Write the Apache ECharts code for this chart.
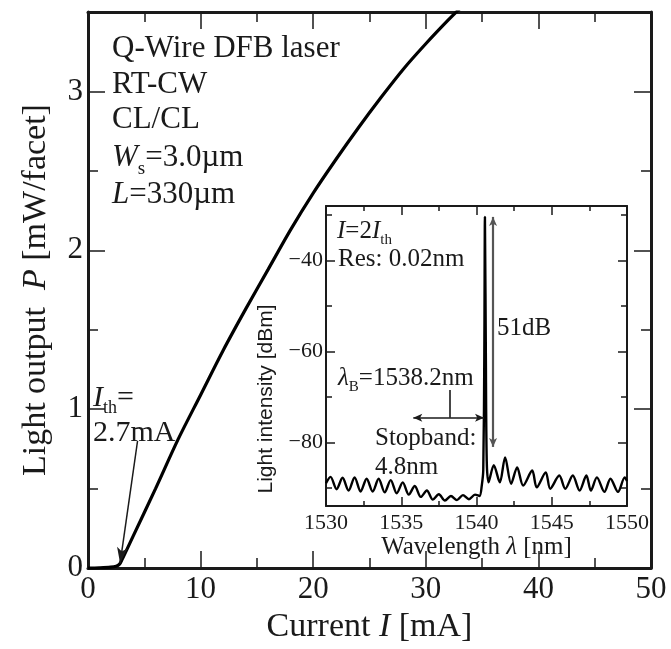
<!DOCTYPE html>
<html lang="en">
<head>
<meta charset="UTF-8">
<title>Q-Wire DFB laser</title>
<script src="https://cdn.jsdelivr.net/npm/echarts@6/dist/echarts.min.js"></script>
<style>html,body{margin:0;padding:0;background:#fff}#chart{width:671px;height:649px}</style>
</head>
<body>
<div id="chart"></div>
<script>
// L-I curve
var current = [0, 1, 2, 2.5, 2.8, 3, 4, 6, 8, 10, 12, 14, 16, 18, 20, 22, 24, 26, 28, 30, 32, 33];
var power = [0, 0.002, 0.006, 0.012, 0.025, 0.05, 0.2, 0.5, 0.81, 1.09, 1.37, 1.63, 1.88, 2.13, 2.36, 2.57, 2.77, 2.96, 3.14, 3.30, 3.45, 3.52];
var pTicks = [0, 1, 2, 3];
var pMinor = [0.5, 1.5, 2.5];
var thArrow = [[4.4, 0.8], [2.85, 0.03]];

// spectrum (inset)
var wavelength = [1530.0, 1530.3, 1530.7, 1531.1, 1531.5, 1531.9, 1532.3, 1532.7, 1533.1, 1533.5, 1533.9,
    1534.3, 1534.7, 1535.1, 1535.5, 1535.9, 1536.3, 1536.7, 1537.1, 1537.5, 1537.9, 1538.3, 1538.7,
    1539.1, 1539.5, 1539.9, 1540.2, 1540.35, 1540.45, 1540.52, 1540.56, 1540.62, 1540.68, 1540.8,
    1541.15, 1541.55, 1541.9, 1542.3, 1542.7, 1543.1, 1543.7, 1544.0, 1544.6, 1544.9, 1545.5, 1545.9,
    1546.4, 1546.85, 1547.3, 1547.6, 1548.0, 1548.5, 1548.9, 1549.4, 1549.85, 1550.0];
var intensity = [-89.0, -87.6, -90.3, -87.8, -90.6, -87.7, -90.8, -88.0, -90.8, -88.0, -91.0,
    -88.3, -91.2, -88.8, -91.5, -89.6, -92.0, -90.6, -92.6, -91.4, -92.8, -91.8, -92.7,
    -91.6, -92.5, -91.5, -91.8, -89.5, -86.0, -60, -30.4, -60, -84.0, -88.8,
    -85.0, -88.8, -83.3, -89.1, -85.5, -89.5, -86.2, -89.9, -86.6, -90.2, -87.3, -90.2,
    -87.3, -90.6, -87.3, -90.6, -87.7, -90.9, -88.0, -90.9, -87.7, -88.5];
var dbTicks = [-80, -60, -40];
var dbMinor = [-90, -70, -50, -30];
var braggArrow = [[1538.2, -68.5], [1538.2, -74.6]];
var stopband = [[1535.8, -74.6], [1540.5, -74.6]];
var smsr = [[1541.1, -30.4], [1541.1, -81]];

var serif = '"Liberation Serif", "Times New Roman", serif';
var ink = '#1a1a1a';

function zip(a, b) {
    var out = [];
    for (var i = 0; i < a.length; i++) out.push([a[i], b[i]]);
    return out;
}

function xAx(grid, pos, min, max, interval, len, minorLen, width, label, size, margin) {
    return {
        type: 'value', gridIndex: grid, position: pos, min: min, max: max, interval: interval,
        axisLine: {show: true, onZero: false, lineStyle: {color: ink, width: width}},
        axisTick: {inside: true, length: len, lineStyle: {color: ink, width: 1.5}},
        minorTick: {show: true, splitNumber: 2, length: minorLen, lineStyle: {color: ink, width: 1.5}},
        axisLabel: {show: label, fontFamily: serif, fontSize: size, color: ink, margin: margin,
            formatter: function (v) { return String(v); }},
        splitLine: {show: false}, minorSplitLine: {show: false}
    };
}

function yAx(grid, pos, min, max, ticks, len, line, width, label, size, margin) {
    return {
        type: 'value', gridIndex: grid, position: pos, min: min, max: max,
        axisLine: {show: line, onZero: false, lineStyle: {color: ink, width: width}},
        axisTick: {inside: true, length: len, customValues: ticks, lineStyle: {color: ink, width: 1.5}},
        axisLabel: {show: label, customValues: ticks, fontFamily: serif, fontSize: size, color: ink, margin: margin,
            formatter: function (v) { return v < 0 ? '\u2212' + (-v) : String(v); }},
        splitLine: {show: false}
    };
}

function rich(size) {
    return {
        i: {fontStyle: 'italic', fontSize: size, fontFamily: serif, fill: ink, lineHeight: size * 1.3},
        s: {fontSize: Math.round(size * 0.6), fontFamily: serif, fill: ink, verticalAlign: 'bottom', lineHeight: Math.round(size * 0.6)}
    };
}

function txt(x, y, s, size) {
    return {
        type: 'text', x: x, y: y, silent: true,
        style: {text: s, fontFamily: serif, fontSize: size, fill: ink, lineHeight: size * 1.3,
            align: 'left', verticalAlign: 'middle', rich: rich(size)}
    };
}

function arrowLine(pts, startSym, endSym, color, width) {
    return [
        {coord: pts[0], symbol: startSym},
        {coord: pts[1], symbol: endSym, lineStyle: {color: color, width: width}}
    ];
}

var nameRich = function (size) {
    return {fontFamily: serif, fontSize: size, color: ink,
        rich: {i: {fontStyle: 'italic', fontFamily: serif, fontSize: size, color: ink}}};
};

var option = {
    animation: false,
    backgroundColor: '#fff',
    grid: [
        {left: 88, top: 12, width: 563, height: 565},
        {left: 326, top: 206, width: 301, height: 300, show: true, backgroundColor: '#fff', borderWidth: 0}
    ],
    xAxis: [
        Object.assign(xAx(0, 'bottom', 0, 50, 10, 17, 10, 3, true, 31, 6), {
            name: 'Current {i|I} [mA]', nameLocation: 'middle', nameGap: 38, nameTextStyle: nameRich(34)
        }),
        xAx(0, 'top', 0, 50, 10, 17, 10, 3, false, 31, 6),
        Object.assign(xAx(1, 'bottom', 1530, 1550, 5, 9, 5, 2, true, 22, 6), {
            name: 'Wavelength {i|\u03bb} [nm]', nameLocation: 'middle', nameGap: 27, nameTextStyle: nameRich(25)
        }),
        xAx(1, 'top', 1530, 1550, 5, 9, 5, 2, false, 22, 6)
    ],
    yAxis: [
        Object.assign(yAx(0, 'left', 0, 3.5, pTicks, 17, true, 3, true, 31, 5), {
            name: 'Light output  {i|P} [mW/facet]', nameLocation: 'middle', nameGap: 35, nameTextStyle: nameRich(34)
        }),
        yAx(0, 'left', 0, 3.5, pMinor, 10, false, 3, false, 31, 5),
        yAx(0, 'right', 0, 3.5, pTicks, 17, true, 3, false, 31, 5),
        yAx(0, 'right', 0, 3.5, pMinor, 10, false, 3, false, 31, 5),
        yAx(1, 'left', -94, -28, dbTicks, 9, true, 2, true, 22, 3),
        yAx(1, 'left', -94, -28, dbMinor, 6, false, 2, false, 22, 3),
        yAx(1, 'right', -94, -28, dbTicks, 9, true, 2, false, 22, 3),
        yAx(1, 'right', -94, -28, dbMinor, 6, false, 2, false, 22, 3)
    ],
    series: [
        {
            type: 'line', xAxisIndex: 0, yAxisIndex: 0, data: zip(current, power),
            showSymbol: false, smooth: 0.3, lineStyle: {color: '#000', width: 3.2},
            markLine: {
                silent: true, symbolSize: [8, 16], label: {show: false},
                lineStyle: {color: ink, width: 1.5, type: 'solid'},
                data: [arrowLine(thArrow, 'none', 'arrow', ink, 1.5)]
            }
        },
        {
            type: 'line', xAxisIndex: 2, yAxisIndex: 4, data: zip(wavelength, intensity),
            showSymbol: false, smooth: 0.3, lineStyle: {color: '#000', width: 2.4},
            markLine: {
                silent: true, symbolSize: [6, 9], label: {show: false},
                lineStyle: {color: ink, width: 1.6, type: 'solid'},
                data: [
                    arrowLine(braggArrow, 'none', 'none', ink, 1.6),
                    arrowLine(stopband, 'arrow', 'arrow', ink, 1.6),
                    arrowLine(smsr, 'arrow', 'arrow', '#555', 2.2)
                ]
            }
        }
    ],
    graphic: [
        txt(112, 49, 'Q-Wire DFB laser', 31),
        txt(112, 85, 'RT-CW', 31),
        txt(112, 120, 'CL/CL', 31),
        txt(112, 158, '{i|W}{s|s}=3.0\u00b5m', 31),
        txt(112, 195, '{i|L}=330\u00b5m', 31),
        txt(93, 398, '{i|I}{s|th}=', 30),
        txt(93, 433, '2.7mA', 30),
        txt(337, 231, '{i|I}=2{i|I}{s|th}', 25),
        txt(338, 259, 'Res: 0.02nm', 25),
        txt(497, 328, '51dB', 25),
        txt(338, 378, '{i|\u03bb}{s|B}=1538.2nm', 25),
        txt(375, 438, 'Stopband:', 25),
        txt(375, 467, '4.8nm', 25),
        {
            type: 'text', x: 266, y: 399, rotation: Math.PI / 2, silent: true,
            style: {text: 'Light intensity [dBm]', fontFamily: '"Liberation Sans", sans-serif',
                fontSize: 21, fill: ink, align: 'center', verticalAlign: 'middle'}
        }
    ]
};

echarts.init(document.getElementById('chart')).setOption(option);
</script>
</body>
</html>
